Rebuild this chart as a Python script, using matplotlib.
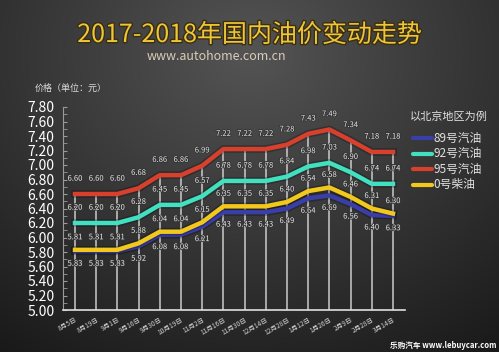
import numpy as np
import matplotlib
matplotlib.use("Agg")
import matplotlib.pyplot as plt
import matplotlib.patheffects as pe

plt.rcParams['font.family'] = ['Noto Sans CJK SC', 'DejaVu Sans']

dates = ["8月5日", "8月19日", "9月1日", "9月16日", "9月30日", "10月19日", "11月2日", "11月16日",
         "11月30日", "12月14日", "12月28日", "1月12日", "1月26日", "2月9日", "2月28日", "3月14日"]
gas95 = [6.60, 6.60, 6.60, 6.68, 6.86, 6.86, 6.99, 7.22, 7.22, 7.22, 7.28, 7.43, 7.49, 7.34, 7.18, 7.18]
gas92 = [6.20, 6.20, 6.20, 6.28, 6.45, 6.45, 6.57, 6.78, 6.78, 6.78, 6.84, 6.98, 7.03, 6.90, 6.74, 6.74]
gas89 = [5.81, 5.81, 5.81, 5.88, 6.04, 6.04, 6.15, 6.35, 6.35, 6.35, 6.40, 6.54, 6.58, 6.46, 6.31, 6.30]
diesel0 = [5.83, 5.83, 5.83, 5.92, 6.08, 6.08, 6.21, 6.43, 6.43, 6.43, 6.49, 6.64, 6.69, 6.56, 6.40, 6.33]
yticks = [5.00, 5.20, 5.40, 5.60, 5.80, 6.00, 6.20, 6.40, 6.60, 6.80, 7.00, 7.20, 7.40, 7.60, 7.80]

W, H = 499, 352
fig = plt.figure(figsize=(W / 100, H / 100), dpi=100)

# background gradient
bg = fig.add_axes([0, 0, 1, 1])
yy, xx = np.mgrid[0:1:200j, 0:1:300j]
d = np.sqrt(((xx - 0.5) / 0.75) ** 2 + ((yy - 0.15) / 0.9) ** 2)
v = np.clip(0.33 - 0.20 * d, 0.10, 0.35)
img = np.dstack([v, v, v])
bg.imshow(img, aspect='auto', extent=[0, 1, 0, 1], origin='upper')
bg.set_axis_off()

ax = fig.add_axes([63 / W, 1 - 310 / H, (405 - 63) / W, (310 - 107) / H])
ax.patch.set_alpha(0)
x = np.arange(len(dates))
ax.set_xlim(-0.566, 15.566)
ax.set_ylim(5.0, 7.8)

# vertical gridlines up to top series
ax.vlines(x, 5.0, gas95, colors='#d8d8d8', lw=1.2, alpha=0.85, zorder=1)

series = [
    (gas95, '#d8402e', '95号汽油'),
    (gas92, '#40e0c0', '92号汽油'),
    (gas89, '#3a3ea8', '89号汽油'),
    (diesel0, '#f2c81c', '0号柴油'),
]
for vals, col, name in series:
    ax.plot(x, vals, color=col, lw=3.2, solid_joinstyle='round', zorder=3,
            path_effects=[pe.Stroke(linewidth=5.5, foreground='black', alpha=0.25), pe.Normal()])

lbl_kw = dict(fontsize=5.5, color='#e8e8e8', ha='center', va='center', zorder=5,
              path_effects=[pe.withStroke(linewidth=1.2, foreground='#333333')])

def fmt(v):
    return f"{v:.2f}"

for i in x:
    ax.annotate(fmt(gas95[i]), (i, gas95[i]), xytext=(0, 11), textcoords='offset points', **lbl_kw)
    ax.annotate(fmt(gas92[i]), (i, gas92[i]), xytext=(0, 11), textcoords='offset points', **lbl_kw)
    top = max(gas89[i], diesel0[i])
    bot = min(gas89[i], diesel0[i])
    ax.annotate(fmt(gas89[i]), (i, top), xytext=(0, 9), textcoords='offset points', **lbl_kw)
    ax.annotate(fmt(diesel0[i]), (i, bot), xytext=(0, -9), textcoords='offset points', **lbl_kw)

# axes styling
for s in ['top', 'right']:
    ax.spines[s].set_visible(False)
ax.spines['left'].set_color('#9a9a9a')
ax.spines['bottom'].set_color('#e0e0e0')
ax.spines['bottom'].set_linewidth(1.2)
ax.set_yticks(yticks)
ax.set_yticklabels([f"{t:.2f}" for t in yticks], fontsize=10, color='white')
ax.set_yticks(np.arange(5.0, 7.81, 0.1), minor=True)
ax.tick_params(axis='y', which='both', colors='#9a9a9a', length=3, direction='in', pad=6)
ax.tick_params(axis='y', which='major', labelcolor='white')
ax.set_xticks(x)
ax.set_xticklabels(dates, fontsize=4.8, color='#cfcfcf', rotation=30, ha='right', rotation_mode='anchor')
ax.tick_params(axis='x', length=0, pad=4)

# titles
fig.text(0.5, 1 - 35 / H, "2017-2018年国内油价变动走势", ha='center', va='center', fontsize=18,
         color='#efc63a', path_effects=[pe.withStroke(linewidth=2, foreground='#3a2e10')])
fig.text(216 / W, 1 - 57 / H, "www.autohome.com.cn", ha='center', va='center', fontsize=9,
         color='#d9cdb8')
fig.text(35 / W, 1 - 88 / H, "价格（单位：元）", ha='left', va='center', fontsize=6.5, color='#dddddd')

# legend
fig.text(410 / W, 1 - 117 / H, "以北京地区为例", ha='left', va='center', fontsize=8, color='#e0e0e0')
leg_items = [(gas89, '#3a3ea8', '89号汽油'), (gas92, '#40e0c0', '92号汽油'),
             (gas95, '#d8402e', '95号汽油'), (diesel0, '#f2c81c', '0号柴油')]
for k, (_, col, name) in enumerate(leg_items):
    yk = 1 - (138 + 15.5 * k) / H
    bg.plot([413 / W, 432 / W], [yk, yk], color=col, lw=3, solid_capstyle='round',
            transform=fig.transFigure)
    fig.text(433 / W, yk, name, ha='left', va='center', fontsize=8.5, color='#e0e0e0')
bg.set_xlim(0, 1)
bg.set_ylim(0, 1)

fig.text(496 / W, 1 - 345 / H, "乐购汽车 www.lebuycar.com", ha='right', va='center', fontsize=5.5,
         color='white', fontweight='bold')

fig.savefig("out.png", dpi=100)
